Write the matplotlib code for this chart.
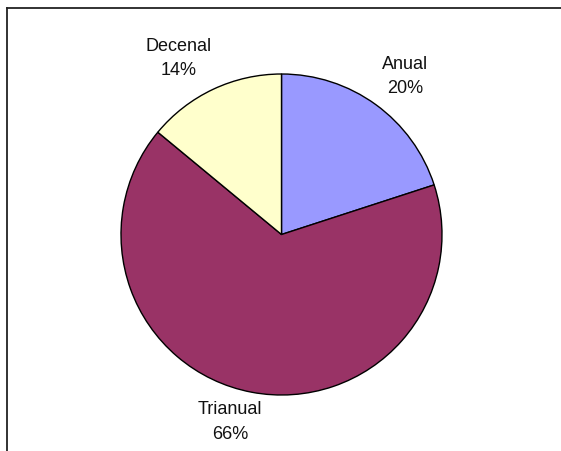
import matplotlib
matplotlib.use("Agg")
import matplotlib.pyplot as plt
from matplotlib.lines import Line2D

categories = ["Anual", "Trianual", "Decenal"]
values = [20, 66, 14]
colors = ["#9999FF", "#993366", "#FFFFCC"]

W, H = 561, 452
fig = plt.figure(figsize=(W / 100, H / 100), dpi=100)
ax = fig.add_axes([0, 0, 1, 1])
ax.set_xlim(0, W)
ax.set_ylim(0, H)
ax.set_aspect("equal")
ax.axis("off")

cx, cy, r = 281.5, H - 235.5, 160.5
wedges, _ = ax.pie(values, colors=colors, startangle=90, counterclock=False,
                   center=(cx, cy), radius=r,
                   wedgeprops=dict(edgecolor="black", linewidth=1.0))
ax.set_xlim(0, W)
ax.set_ylim(0, H)

label_pos = [(405.5, H - 76.5), (230, H - 422), (179, H - 58.5)]
for cat, v, (x, y) in zip(categories, values, label_pos):
    ax.text(x, y, f"{cat}\n{v}%", ha="center", va="center",
            fontsize=13, family="Liberation Sans", linespacing=1.55,
            color="#111111")

# chart frame (top and left edges visible)
fig.add_artist(Line2D([7 / W, 1.01], [1 - 9 / H, 1 - 9 / H], transform=fig.transFigure,
                      color="#222222", linewidth=1.3))
fig.add_artist(Line2D([7 / W, 7 / W], [1 - 9 / H, -0.01], transform=fig.transFigure,
                      color="#222222", linewidth=1.3))

fig.savefig("out.png", dpi=100, facecolor="white")
